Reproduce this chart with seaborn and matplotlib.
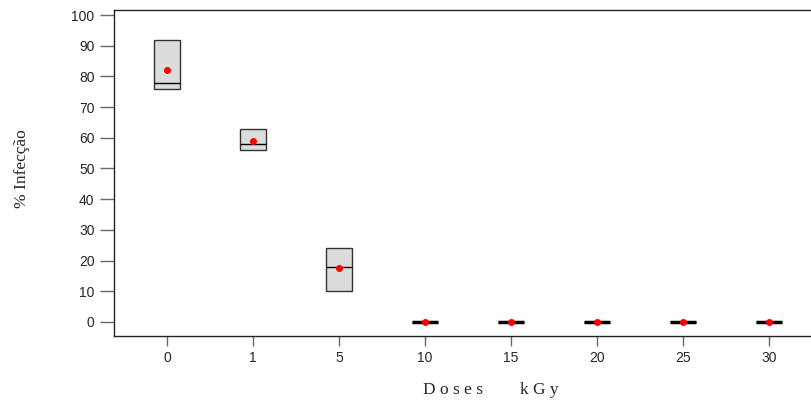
import numpy as np
import matplotlib
matplotlib.use('Agg')
import matplotlib.pyplot as plt
import seaborn as sns
import pandas as pd

# doses (kGy) and % infection per replicate
doses = ['0', '1', '5', '10', '15', '20', '25', '30']
rep_0 = [72, 76, 78, 92, 92]
rep_1 = [55, 56, 58, 63, 63]
rep_5 = [10, 10, 18, 24, 25.5]
rep_10 = [0, 0, 0, 0, 0]
rep_15 = [0, 0, 0, 0, 0]
rep_20 = [0, 0, 0, 0, 0]
rep_25 = [0, 0, 0, 0, 0]
rep_30 = [0, 0, 0, 0, 0]

reps = [rep_0, rep_1, rep_5, rep_10, rep_15, rep_20, rep_25, rep_30]
rows = []
for d, r in zip(doses, reps):
    for v in r:
        rows.append([d, v])
df = pd.DataFrame(rows, columns=['Dose', 'Infeccao'])

sns.set_style('white')
plt.rcParams['font.family'] = ['Liberation Sans', 'DejaVu Sans']

fig = plt.figure(figsize=(8.12, 4.08), dpi=100)
ax = fig.add_axes([0.1404, 0.1765, 0.8596, 0.8002])

sns.boxplot(data=df, x='Dose', y='Infeccao', order=doses, width=0.3,
            whis=0, showfliers=False, showcaps=False, showmeans=True,
            color='#dcdcdc', linecolor='#333333', linewidth=1,
            medianprops=dict(color='black', linewidth=1),
            meanprops=dict(marker='o', markerfacecolor='red',
                           markeredgecolor='red', markersize=4),
            saturation=1, ax=ax)

# flat boxes (all zeros) shown as a thick black bar
for ln in ax.lines:
    y = np.asarray(ln.get_ydata(), dtype=float)
    x = np.asarray(ln.get_xdata(), dtype=float)
    if len(y) == 2 and np.all(y == 0) and x[0] != x[1]:
        ln.set_linewidth(2.5)
        ln.set_color('black')

ax.set_xlim(-0.616, 7.5)
ax.set_ylim(-4.6, 101.8)
ax.set_yticks(range(0, 101, 10))
ax.tick_params(axis='both', labelsize=10, width=1, color='#666666',
               left=True, bottom=True)
ax.tick_params(axis='y', length=10, pad=4)
ax.tick_params(axis='x', length=7.5, pad=3)
for s in ['left', 'bottom', 'top']:
    ax.spines[s].set_color('#222222')
    ax.spines[s].set_linewidth(1)
ax.spines['right'].set_visible(False)

ax.set_xlabel('')
ax.set_ylabel('')
fig.text(0.027, 0.586, '% Infecção', rotation=90, ha='center', va='center',
         family=['Liberation Serif'], fontsize=12.5)
fig.text(0.521, 0.035, 'D o s e s', ha='left', va='baseline',
         family=['Liberation Serif'], fontsize=12.5)
fig.text(0.640, 0.035, 'k G y', ha='left', va='baseline',
         family=['Liberation Serif'], fontsize=12.5)

fig.savefig('out.png', dpi=100)
